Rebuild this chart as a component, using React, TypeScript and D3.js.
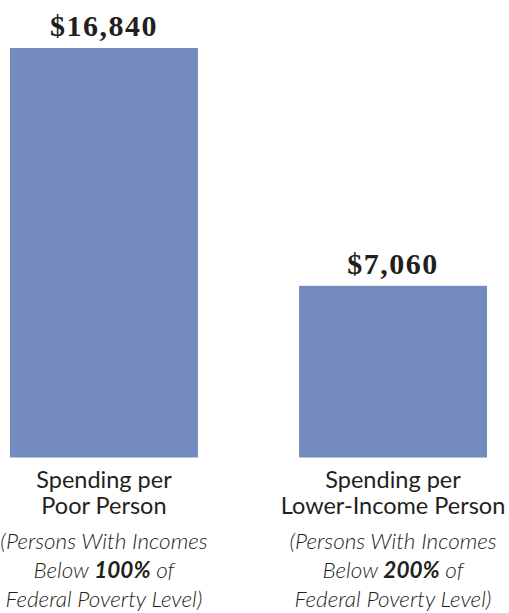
import React from "react";
import * as d3 from "d3";

const categories = ["poor", "lower"];
const values = [16840, 7060];
const valueLabels = ["$16,840", "$7,060"];
const titleLines = [
  ["Spending per", "Poor Person"],
  ["Spending per", "Lower-Income Person"],
];
const pctLabels = ["100%", "200%"];

const W = 509;
const H = 613;
const BAR = "#738bbd";
const INK = "#231f20";

export default function App() {
  const x = d3.scaleBand<string>().domain(categories).range([10, 487]).paddingInner(0.35);
  const y = d3.scaleLinear().domain([0, d3.max(values) as number]).range([457.5, 48]);

  return (
    <svg width={W} height={H} style={{ position: "absolute", left: 0, top: 0, background: "#fff" }}>
      {categories.map((c, i) => {
        const x0 = x(c) as number;
        const cx = x0 + x.bandwidth() / 2;
        return (
          <g key={c}>
            <rect x={x0} y={y(values[i])} width={x.bandwidth()} height={y(0) - y(values[i])} fill={BAR} />
            <text
              x={cx}
              y={y(values[i]) - 12}
              textAnchor="middle"
              fontFamily="'Liberation Serif', 'DejaVu Serif', serif"
              fontWeight="bold"
              fontSize={30}
              letterSpacing={1.5}
              fill={INK}
            >
              {valueLabels[i]}
            </text>
            <text textAnchor="middle" fontFamily="Lato, 'Open Sans', sans-serif" fontSize={23.5} fill={INK}>
              <tspan x={cx} y={488}>{titleLines[i][0]}</tspan>
              <tspan x={cx} y={514}>{titleLines[i][1]}</tspan>
            </text>
            <text
              textAnchor="middle"
              fontFamily="Lato, 'Open Sans', sans-serif"
              fontStyle="italic"
              fontWeight={300}
              fontSize={22.5}
              fill={INK}
            >
              <tspan x={cx} y={549}>(Persons With Incomes</tspan>
              <tspan x={cx} y={578}>
                Below <tspan fontWeight="bold">{pctLabels[i]}</tspan> of
              </tspan>
              <tspan x={cx} y={607}>Federal Poverty Level)</tspan>
            </text>
          </g>
        );
      })}
    </svg>
  );
}
